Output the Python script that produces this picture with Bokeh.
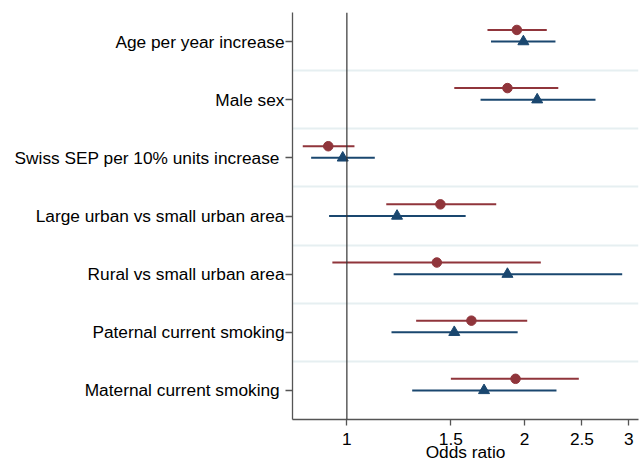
from bokeh.plotting import figure
from bokeh.models import Range1d, FixedTicker, Span, ColumnDataSource
from bokeh.embed import file_html
from bokeh.resources import INLINE

# ---- data ----
labels = [
    "Age per year increase",
    "Male sex",
    "Swiss SEP per 10% units  increase",
    "Large urban vs small urban area",
    "Rural vs small urban area",
    "Paternal current smoking",
    "Maternal current smoking ",
]
# red series (circles)
red_or = [1.94, 1.87, 0.93, 1.44, 1.42, 1.625, 1.93]
red_lo = [1.73, 1.52, 0.842, 1.166, 0.945, 1.31, 1.50]
red_hi = [2.18, 2.28, 1.03, 1.79, 2.13, 2.02, 2.47]
# blue series (triangles)
blue_or = [1.99, 2.10, 0.984, 1.216, 1.87, 1.52, 1.707]
blue_lo = [1.754, 1.684, 0.870, 0.933, 1.20, 1.19, 1.29]
blue_hi = [2.255, 2.636, 1.115, 1.589, 2.925, 1.946, 2.264]
x_ticks = [1, 1.5, 2, 2.5, 3]
x_tick_labels = ["1", "1.5", "2", "2.5", "3"]

RED = "#90353b"
BLUE = "#1a476f"
FONT = "Liberation Sans"

n = len(labels)
ypos = [n - i for i in range(n)]          # Age at top
ypos_red = [y + 0.2 for y in ypos]

p = figure(width=641, height=464, x_axis_type="log",
           x_range=Range1d(0.809, 3.117), y_range=Range1d(0.5, 7.5),
           output_backend="svg", toolbar_location=None,
           min_border_left=292, min_border_right=3,
           min_border_top=12, min_border_bottom=44)
p.outline_line_color = None
p.background_fill_color = "white"
p.border_fill_color = "white"

# grids
p.xgrid.visible = False
p.ygrid.ticker = FixedTicker(ticks=[y + 0.5 for y in ypos[1:]])
p.ygrid.grid_line_color = "#e6eff1"
p.ygrid.grid_line_width = 1.8

# reference line at OR = 1
p.add_layout(Span(location=1, dimension="height", line_color="#333333",
                  line_width=1.2))

red_src = ColumnDataSource(dict(y=ypos_red, v=red_or, lo=red_lo, hi=red_hi))
blue_src = ColumnDataSource(dict(y=ypos, v=blue_or, lo=blue_lo, hi=blue_hi))

p.segment(x0="lo", x1="hi", y0="y", y1="y", source=red_src,
          line_color=RED, line_width=2)
p.scatter(x="v", y="y", source=red_src, marker="circle", size=9.5,
          fill_color=RED, line_color=RED)
p.segment(x0="lo", x1="hi", y0="y", y1="y", source=blue_src,
          line_color=BLUE, line_width=2)
p.scatter(x="v", y="y", source=blue_src, marker="triangle", size=11,
          fill_color=BLUE, line_color=BLUE)

# y axis
p.yaxis.ticker = FixedTicker(ticks=ypos)
p.yaxis.major_label_overrides = {y: lab for y, lab in zip(ypos, labels)}
p.yaxis.major_label_text_font = FONT
p.yaxis.major_label_text_font_size = "17.3px"
p.yaxis.major_label_text_color = "black"
p.yaxis.major_tick_out = 7
p.yaxis.major_tick_in = 0
p.yaxis.minor_tick_line_color = None
p.yaxis.major_label_standoff = 1
p.yaxis.axis_line_color = "#555555"
p.yaxis.axis_line_width = 1.3
p.yaxis.major_tick_line_color = "#555555"
p.yaxis.major_tick_line_width = 1.3

# x axis
p.xaxis.ticker = FixedTicker(ticks=x_ticks)
p.xaxis.major_label_overrides = {t: s for t, s in zip(x_ticks, x_tick_labels)}
p.xaxis.major_label_text_font = FONT
p.xaxis.major_label_text_font_size = "17.3px"
p.xaxis.major_label_text_color = "black"
p.xaxis.major_tick_out = 6
p.xaxis.major_tick_in = 0
p.xaxis.minor_tick_line_color = None
p.xaxis.major_label_standoff = 7
p.xaxis.axis_line_color = "#555555"
p.xaxis.axis_line_width = 1.3
p.xaxis.major_tick_line_color = "#555555"
p.xaxis.major_tick_line_width = 1.3
p.xaxis.axis_label = "Odds ratio"
p.xaxis.axis_label_text_font = FONT
p.xaxis.axis_label_text_font_size = "17.3px"
p.xaxis.axis_label_text_font_style = "normal"
p.xaxis.axis_label_text_color = "black"
p.xaxis.axis_label_standoff = -6

open("out.html", "w").write(file_html(p, INLINE))
